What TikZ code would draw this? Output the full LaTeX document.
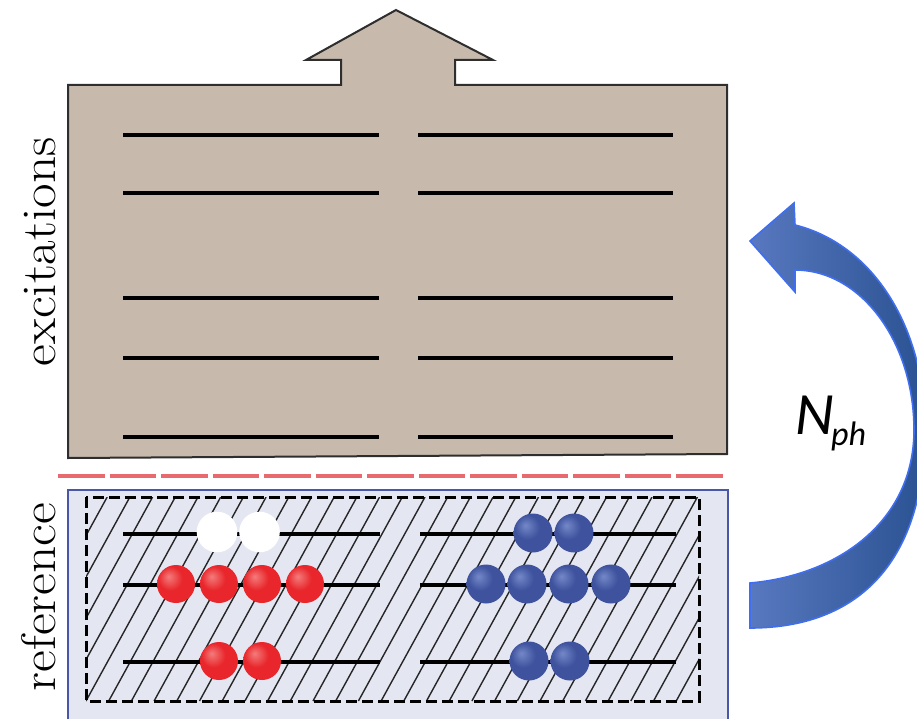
\documentclass[tikz,border=0pt]{standalone}
\usepackage{fontspec}
\newfontfamily\calfont{Carlito}
\definecolor{brownfill}{HTML}{C7BAAD}
\definecolor{brownline}{HTML}{2E2E2E}
\definecolor{reffill}{HTML}{E4E6F2}
\definecolor{refline}{HTML}{4A56A8}
\definecolor{sepred}{HTML}{E96A6E}
\definecolor{redhi}{HTML}{F47C7C}
\definecolor{redmid}{HTML}{E8262B}
\definecolor{redlo}{HTML}{C41A1E}
\definecolor{bluehi}{HTML}{7488C8}
\definecolor{bluemid}{HTML}{3E529E}
\definecolor{bluelo}{HTML}{2C3C82}
\definecolor{arrowleft}{HTML}{5878BF}
\definecolor{arrowright}{HTML}{2A5292}
\definecolor{arrowedge}{HTML}{3F6FF0}
\pgfdeclareradialshading{redball}{\pgfpoint{-10bp}{10bp}}{color(0bp)=(redhi); color(16bp)=(redmid); color(42bp)=(redmid); color(62bp)=(redlo)}
\pgfdeclareradialshading{blueball}{\pgfpoint{-10bp}{10bp}}{color(0bp)=(bluehi); color(16bp)=(bluemid); color(42bp)=(bluemid); color(62bp)=(bluelo)}
\tikzset{
  brownbox/.style={fill=brownfill, draw=brownline, line width=2pt, line join=miter},
  level/.style={line width=3.2pt, black},
  sepline/.style={sepred, line width=4pt, dash pattern=on 46.5pt off 5pt},
  refbox/.style={fill=reffill, draw=refline, line width=2.2pt},
  hatch/.style={line width=1.4pt, black!85},
  dashbox/.style={line width=3pt, black, dash pattern=on 11pt off 5pt},
  redb/.style={shading=redball},
  blueb/.style={shading=blueball},
  whiteb/.style={fill=white},
  bigarrow/.style={left color=arrowleft, right color=arrowright, draw=arrowedge, line width=1.6pt, line join=miter},
  vlabel/.style={rotate=90, anchor=base, font=\fontsize{48.5}{50}\selectfont},
}
\begin{document}
\begin{tikzpicture}[x=1pt,y=-1pt]
\useasboundingbox (0,0) rectangle (917,719);
% excitations box with up arrow
\draw[brownbox] (68,85) -- (341,85) -- (341,60) -- (306,60) -- (396,10) -- (493,60) -- (455,60) -- (455,85) -- (727,85) -- (727,454) -- (68,458) -- cycle;
\foreach \y in {135,193,298,358,437} {
  \draw[level] (123,\y) -- (379,\y);
  \draw[level] (418,\y) -- (673,\y);
}
% separator
\draw[sepline] (58,476) -- (723,476);
% reference box
\filldraw[refbox] (68,490) rectangle (728,730);
\begin{scope}
  \clip (86,497) rectangle (699,701);
  \foreach \i in {-6,...,30} {
    \draw[hatch] ({86+\i*22.7},701) -- ({86+\i*22.7+112},497);
  }
\end{scope}
\draw[dashbox] (86,497) rectangle (699,701);
\foreach \y in {534,585,662} {
  \draw[level] (123,\y) -- (380,\y);
  \draw[level] (420,\y) -- (676,\y);
}
% balls
\fill[whiteb] (217,532) circle (20.3pt);
\fill[whiteb] (259.5,532) circle (20.3pt);
\foreach \x in {176,219,262,305} { \shade[redb] (\x,584) circle (19pt); }
\foreach \x in {219,262} { \shade[redb] (\x,661) circle (19pt); }
\foreach \x in {533,574} { \shade[blueb] (\x,533) circle (19.5pt); }
\foreach \x in {486,527,569,611} { \shade[blueb] (\x,584) circle (19.5pt); }
\foreach \x in {529,570} { \shade[blueb] (\x,661) circle (19.5pt); }
% labels
\node[vlabel] (exc) at (55,252) {\scalebox{1.1}[1]{excitations}};
\node[vlabel] (ref) at (55,597) {\scalebox{1.1}[1]{reference}};
% curved arrow
\draw[bigarrow] (750,583) .. controls (840,575) and (914,520) .. (914,430)
  .. controls (914,342) and (861,270) .. (795,270)
  -- (795,292) -- (750,241) -- (794,203) -- (795,225)
  .. controls (875,245) and (925,330) .. (925,428)
  .. controls (925,560) and (860,628) .. (750,628) -- cycle;
\node[anchor=base west, inner sep=0pt, font=\calfont\itshape\fontsize{60}{60}\selectfont] (nlab) at (795,434) {N};
\node[anchor=base west, inner sep=0pt, font=\calfont\itshape\fontsize{34}{34}\selectfont] (phlab) at (831,445) {ph};
\end{tikzpicture}
\end{document}
